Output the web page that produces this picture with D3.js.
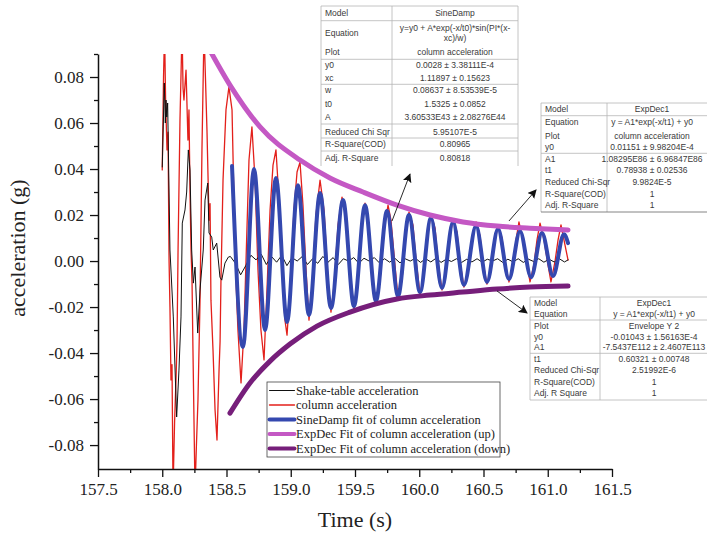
<!DOCTYPE html>
<html>
<head>
<meta charset="utf-8">
<script src="https://d3js.org/d3.v7.min.js"></script>
<style>
body { margin: 0; background: #fff; }
</style>
</head>
<body>
<script>
// shake-table acceleration (black)
var shakeTime = [158.000, 158.016, 158.024, 158.029, 158.035, 158.042, 158.060, 158.086, 158.112, 158.130,
  158.146, 158.156, 158.177, 158.190, 158.203, 158.216, 158.229, 158.242, 158.255, 158.276,
  158.294, 158.319, 158.333, 158.354, 158.364, 158.385, 158.397, 158.424, 158.449, 158.463,
  158.488, 158.514,
  158.53, 158.57, 158.61, 158.65, 158.69, 158.73, 158.77, 158.81, 158.85, 158.89,
  158.93, 158.97, 159.01, 159.05, 159.09, 159.13, 159.17, 159.21, 159.25, 159.29,
  159.33, 159.37, 159.41, 159.45, 159.49, 159.53, 159.57, 159.61, 159.65, 159.69,
  159.73, 159.77, 159.81, 159.85, 159.89, 159.93, 159.97, 160.01, 160.05, 160.09,
  160.13, 160.17, 160.21, 160.25, 160.29, 160.33, 160.37, 160.41, 160.45, 160.49,
  160.53, 160.57, 160.61, 160.65, 160.69, 160.73, 160.77, 160.81, 160.85, 160.89,
  160.93, 160.97, 161.01, 161.05, 161.09, 161.13, 161.158];
var shakeAcc = [0.0409, 0.0774, 0.0600, 0.0700, 0.0626, 0.0687, 0.0048, -0.0243, -0.0678, -0.0474,
  -0.0243, 0.0165, 0.0222, 0.0300, 0.0483, 0.0396, 0.0048, -0.0096, -0.0026, -0.0313,
  -0.0126, 0.0048, 0.0265, 0.0339, 0.0122, 0.0104, 0.0048, 0.0078, -0.0070, -0.0083,
  -0.0009, 0.0017,
  0.0020, -0.0010, -0.0060, -0.0020, 0.0025, 0.0005, 0.0030, -0.0015, 0.0020, -0.0005,
  0.0025, -0.0020, 0.0015, 0.0000, 0.0020, -0.0015, 0.0010, -0.0010, 0.0020, -0.0005,
  0.0015, -0.0015, 0.0010, 0.0000, 0.0015, -0.0010, 0.0012, 0.0000, 0.0015, -0.0008,
  0.0010, -0.0005, 0.0012, -0.0008, 0.0010, 0.0000, 0.0012, -0.0006, 0.0010, -0.0004,
  0.0012, -0.0006, 0.0008, -0.0002, 0.0010, -0.0006, 0.0008, -0.0004, 0.0010, -0.0005,
  0.0008, 0.0000, 0.0010, -0.0006, 0.0008, -0.0004, 0.0010, -0.0006, 0.0008, -0.0002,
  0.0010, -0.0005, 0.0008, -0.0004, 0.0010, -0.0004, 0.0005];

// column acceleration (red)
var columnTime = [158.000, 158.010, 158.018, 158.026, 158.037, 158.045, 158.053, 158.060, 158.068, 158.076,
  158.084, 158.096, 158.107, 158.115, 158.123, 158.138, 158.154, 158.162,
  158.169, 158.185, 158.200, 158.208, 158.216, 158.224, 158.232, 158.239, 158.255, 158.266, 158.278, 158.294, 158.309,
  158.325, 158.336, 158.348, 158.364, 158.372, 158.379, 158.395, 158.411, 158.426, 158.442, 158.450, 158.457, 158.473,
  158.496, 158.519, 158.543, 158.558, 158.574, 158.589, 158.613, 158.636, 158.652, 158.675,
  158.698, 158.722, 158.745, 158.768, 158.792, 158.815, 158.839, 158.862, 158.885, 158.909,
  158.932, 158.955, 158.971, 158.994, 159.025, 159.049, 159.072, 159.095, 159.119, 159.142,
  159.165, 159.196, 159.228, 159.259, 159.290, 159.313, 159.337, 159.368, 159.399,
  159.430, 159.461, 159.492, 159.523, 159.547, 159.578, 159.601, 159.632, 159.663, 159.695,
  159.726, 159.757, 159.780, 159.811, 159.835, 159.866, 159.889, 159.920, 159.951, 159.975,
  160.006, 160.037, 160.060, 160.091, 160.123, 160.146, 160.177, 160.208, 160.232, 160.263,
  160.294, 160.317, 160.348, 160.379, 160.411, 160.442, 160.473, 160.496, 160.527, 160.558,
  160.582, 160.613, 160.644, 160.667, 160.698, 160.730, 160.753, 160.776, 160.807, 160.839,
  160.862, 160.893, 160.916, 160.940, 160.971, 161.002, 161.025, 161.056, 161.080, 161.103,
  161.134, 161.158];
var columnAcc = [0.0396, 0.0800, 0.1004, 0.0700, 0.0483, 0.0560, 0.0004, -0.0200, -0.0517, -0.0450,
  -0.0996, -0.0700, -0.0517, -0.0350, 0.0048, 0.0613, 0.1004, 0.0750,
  0.0700, 0.0830, 0.0526, 0.0657, 0.0300, 0.0048, -0.0100, -0.0387, -0.0996, -0.0800, -0.0604, -0.0170, 0.0483,
  0.1004, 0.0800, 0.0570, 0.0178, 0.0250, -0.0170, -0.0387, -0.0648, -0.0778, -0.0474, -0.0350, -0.0083, 0.0352,
  0.0657, 0.0757, 0.0657, 0.0265, -0.0083, -0.0300, -0.0530, -0.0300, 0.0004, 0.0439,
  0.0583, 0.0352, -0.0039, -0.0300, -0.0430, -0.0126, 0.0222, 0.0417, 0.0483, 0.0265,
  -0.0039, -0.0257, -0.0322, -0.0126, 0.0222, 0.0387, 0.0430, 0.0243, -0.0039, -0.0257,
  -0.0126, 0.0200, 0.0352, 0.0222, -0.0083, -0.0222, -0.0104, 0.0157, 0.0278,
  0.0200, -0.0039, -0.0213, -0.0104, 0.0135, 0.0252, 0.0178, -0.0039, -0.0191, -0.0083,
  0.0135, 0.0243, 0.0178, -0.0017, -0.0161, -0.0083, 0.0091, 0.0213, 0.0157, 0.0004,
  -0.0143, -0.0061, 0.0091, 0.0204, 0.0143, -0.0004, -0.0126, -0.0048, 0.0091, 0.0178,
  0.0126, -0.0004, -0.0113, -0.0039, 0.0091, 0.0170, 0.0109, -0.0004, -0.0100, -0.0030,
  0.0070, 0.0152, 0.0100, -0.0004, -0.0091, -0.0022, 0.0091, 0.0170, 0.0091, -0.0017,
  -0.0091, -0.0013, 0.0091, 0.0165, 0.0091, -0.0017, -0.0091, -0.0004, 0.0091, 0.0157,
  0.0070, 0.0004];

// SineDamp fit, read at its crests and troughs (blue)
var sineTime = [158.543, 158.628, 158.714, 158.800, 158.885, 158.971, 159.056, 159.142, 159.228, 159.313,
  159.407, 159.492, 159.578, 159.663, 159.749, 159.835, 159.920, 160.006, 160.091, 160.177,
  160.263, 160.348, 160.442, 160.527, 160.613, 160.698, 160.784, 160.870, 160.955, 161.041,
  161.126, 161.158];
var sineAcc = [0.0413, -0.0374, 0.0400, -0.0300, 0.0361, -0.0265, 0.0330, -0.0235, 0.0296, -0.0204,
  0.0265, -0.0196, 0.0243, -0.0174, 0.0217, -0.0152, 0.0200, -0.0135, 0.0187, -0.0117,
  0.0170, -0.0104, 0.0152, -0.0091, 0.0139, -0.0078, 0.0130, -0.0070, 0.0122, -0.0065,
  0.0117, 0.0078];

// ExpDec envelope (up)
var upTime = [158.348, 158.527, 158.761, 159.072, 159.305, 159.562, 159.827, 160.084, 160.340, 160.605, 160.862, 161.158];
var upAcc = [0.0939, 0.0765, 0.0583, 0.0439, 0.0361, 0.0300, 0.0243, 0.0200, 0.0170, 0.0152, 0.0143, 0.0135];

// ExpDec envelope (down)
var downTime = [158.527, 158.683, 158.839, 158.994, 159.204, 159.461, 159.827, 160.084, 160.340, 160.605, 160.862, 161.158];
var downAcc = [-0.0661, -0.0530, -0.0435, -0.0361, -0.0283, -0.0222, -0.0165, -0.0148, -0.0135, -0.0122, -0.0113, -0.0109];

var xTicks = [157.5, 158.0, 158.5, 159.0, 159.5, 160.0, 160.5, 161.0, 161.5];
var yTicks = [-0.08, -0.06, -0.04, -0.02, 0.00, 0.02, 0.04, 0.06, 0.08];

var legendNames = ["Shake-table acceleration", "column acceleration", "SineDamp fit of column acceleration",
  "ExpDec Fit of column acceleration (up)", "ExpDec Fit of column acceleration (down)"];
var seriesColors = ["#111111", "#e3201b", "#3448af", "#c458c4", "#761e7a"];
var seriesWidths = [1, 1.3, 4, 5, 5];

// fit report tables
var sineRows = [["Model", "SineDamp"], ["Equation", ["y=y0 + A*exp(-x/t0)*sin(PI*(x-", "xc)/w)"]],
  ["Plot", "column acceleration"], ["y0", "0.0028 \u00b1 3.38111E-4"], ["xc", "1.11897 \u00b1 0.15623"],
  ["w", "0.08637 \u00b1 8.53539E-5"], ["t0", "1.5325 \u00b1 0.0852"], ["A", "3.60533E43 \u00b1 2.08276E44"],
  ["Reduced Chi Sqr", "5.95107E-5"], ["R-Square(COD)", "0.80965"], ["Adj. R-Square", "0.80818"]];
var upRows = [["Model", "ExpDec1"], ["Equation", "y = A1*exp(-x/t1) + y0"], ["Plot", "column acceleration"],
  ["y0", "0.01151 \u00b1 9.98204E-4"], ["A1", "1.08295E86 \u00b1 6.96847E86"], ["t1", "0.78938 \u00b1 0.02536"],
  ["Reduced Chi-Sqr", "9.9824E-5"], ["R-Square(COD)", "1"], ["Adj. R-Square", "1"]];
var downRows = [["Model", "ExpDec1"], ["Equation", "y = A1*exp(-x/t1) + y0"], ["Plot", "Envelope Y 2"],
  ["y0", "-0.01043 \u00b1 1.56163E-4"], ["A1", "-7.5437E112 \u00b1 2.4607E113"], ["t1", "0.60321 \u00b1 0.00748"],
  ["Reduced Chi-Sqr", "2.51992E-6"], ["R-Square(COD)", "1"], ["Adj. R Square", "1"]];

// set the dimensions and margins of the graph
var margin = {top: 54, right: 95, bottom: 67, left: 98},
    width = 707 - margin.left - margin.right,
    height = 536 - margin.top - margin.bottom;

var x = d3.scaleLinear().domain([157.5, 161.5]).range([0, width]);
var y = d3.scaleLinear().domain([-0.0904, 0.09]).range([height, 0]);

var svg0 = d3.select("body").append("svg")
    .attr("width", 707)
    .attr("height", 536)
    .style("display", "block");

var svg = svg0.append("g")
    .attr("transform", "translate(" + margin.left + "," + margin.top + ")");

svg.append("clipPath").attr("id", "plotclip")
  .append("rect").attr("width", width).attr("height", height);

var line = d3.line().x(function(d) { return x(d[0]); }).y(function(d) { return y(d[1]); });
var smooth = d3.line().curve(d3.curveMonotoneX)
    .x(function(d) { return x(d[0]); }).y(function(d) { return y(d[1]); });

var plot = svg.append("g").attr("clip-path", "url(#plotclip)");

// column first, shake-table on top of it, fits on top
var series = [
  {pts: d3.zip(columnTime, columnAcc), gen: line, i: 1},
  {pts: d3.zip(shakeTime, shakeAcc), gen: line, i: 0},
  {pts: d3.zip(sineTime, sineAcc), gen: smooth, i: 2},
  {pts: d3.zip(upTime, upAcc), gen: smooth, i: 3},
  {pts: d3.zip(downTime, downAcc), gen: smooth, i: 4}
];
series.forEach(function(s) {
  plot.append("path")
      .attr("d", s.gen(s.pts))
      .attr("fill", "none")
      .attr("stroke", seriesColors[s.i])
      .attr("stroke-width", seriesWidths[s.i])
      .attr("stroke-linejoin", "round")
      .attr("stroke-linecap", "round");
});

// axes
var fmtY = function(d) { return d3.format(".2f")(d).replace("\u2212", "-"); };

function styleAxis(g) {
  g.select(".domain").attr("stroke", "#111").attr("stroke-width", 1.5);
  g.selectAll(".tick line").attr("stroke", "#111").attr("stroke-width", 1.3);
  g.selectAll(".tick text")
      .attr("fill", "#222")
      .style("font-family", "'Liberation Serif', 'Times New Roman', serif")
      .style("font-size", "17px");
}

svg.append("g")
    .attr("transform", "translate(0," + height + ")")
    .call(d3.axisBottom(x).tickValues(xTicks).tickFormat(d3.format(".1f"))
      .tickSize(8).tickSizeOuter(0).tickPadding(6))
    .call(styleAxis);

svg.append("g")
    .attr("transform", "translate(0," + height + ")")
    .call(d3.axisBottom(x).tickValues(xTicks.slice(1).map(function(d) { return d - 0.25; }))
      .tickFormat("").tickSize(4).tickSizeOuter(0))
    .call(function(g) { g.select(".domain").remove(); })
    .call(styleAxis);

svg.append("g")
    .call(d3.axisLeft(y).tickValues(yTicks).tickFormat(fmtY)
      .tickSize(8).tickSizeOuter(0).tickPadding(6))
    .call(styleAxis);

svg.append("g")
    .call(d3.axisLeft(y).tickValues(yTicks.map(function(d) { return d + 0.01; }))
      .tickFormat("").tickSize(4).tickSizeOuter(0))
    .call(function(g) { g.select(".domain").remove(); })
    .call(styleAxis);

// axis titles
svg0.append("text")
    .attr("text-anchor", "middle")
    .attr("transform", "translate(25,248)rotate(-90)")
    .style("font-family", "'Liberation Serif', 'Times New Roman', serif")
    .style("font-size", "22px")
    .attr("fill", "#222")
    .text("acceleration (g)");

svg0.append("text")
    .attr("text-anchor", "middle")
    .attr("x", margin.left + width / 2)
    .attr("y", 527)
    .style("font-family", "'Liberation Serif', 'Times New Roman', serif")
    .style("font-size", "22px")
    .attr("fill", "#222")
    .text("Time (s)");

// legend
var legend = svg0.append("g").attr("transform", "translate(267,382)");
legend.append("rect")
    .attr("width", 233).attr("height", 75)
    .attr("fill", "#fff").attr("stroke", "#444").attr("stroke-width", 0.8);
legendNames.forEach(function(name, i) {
  var cy = 8.5 + i * 14.5;
  legend.append("line")
      .attr("x1", 2.5).attr("x2", 27.5).attr("y1", cy).attr("y2", cy)
      .attr("stroke", seriesColors[i])
      .attr("stroke-width", Math.min(seriesWidths[i], 4))
      .attr("stroke-linecap", "round");
  legend.append("text")
      .attr("x", 29).attr("y", cy).attr("dy", "0.35em")
      .style("font-family", "'Liberation Serif', 'Times New Roman', serif")
      .style("font-size", "12.5px")
      .attr("fill", "#222")
      .text(name);
});

// arrows from the curves to their reports
svg0.append("defs").append("marker")
    .attr("id", "head")
    .attr("viewBox", "0 0 10 10")
    .attr("refX", 9).attr("refY", 5)
    .attr("markerWidth", 9).attr("markerHeight", 9)
    .attr("markerUnits", "userSpaceOnUse")
    .attr("orient", "auto")
  .append("path").attr("d", "M0,0L10,5L0,10L2,5Z").attr("fill", "#111");

var arrows = [[159.788, 0.0174, 159.928, 0.0378], [160.698, 0.0174, 160.909, 0.0309], [160.605, -0.0130, 160.839, -0.0226]];
arrows.forEach(function(a) {
  svg.append("line")
      .attr("x1", x(a[0])).attr("y1", y(a[1]))
      .attr("x2", x(a[2])).attr("y2", y(a[3]))
      .attr("stroke", "#111").attr("stroke-width", 0.9)
      .attr("marker-end", "url(#head)");
});

// fit tables
function drawTable(rows, opt) {
  var g = svg0.append("g");
  g.append("rect")
      .attr("x", opt.x).attr("y", opt.y).attr("width", opt.w).attr("height", opt.h)
      .attr("fill", "#fff");
  g.append("line").attr("x1", opt.x).attr("x2", opt.x).attr("y1", opt.y).attr("y2", opt.y + opt.h)
      .attr("stroke", "#b5b5b5").attr("stroke-width", 0.8);
  g.append("line").attr("x1", opt.x + opt.w).attr("x2", opt.x + opt.w).attr("y1", opt.y).attr("y2", opt.y + opt.h)
      .attr("stroke", "#b5b5b5").attr("stroke-width", 0.8);
  g.append("line").attr("x1", opt.div).attr("x2", opt.div).attr("y1", opt.y).attr("y2", opt.y + opt.h)
      .attr("stroke", "#b5b5b5").attr("stroke-width", 0.8);
  opt.lines.forEach(function(ly, k) {
    g.append("line").attr("x1", opt.x).attr("x2", opt.x + opt.w).attr("y1", ly).attr("y2", ly)
        .attr("stroke", k === opt.lines.length - 1 && opt.darkBottom ? "#666" : "#b5b5b5")
        .attr("stroke-width", 0.8);
  });
  rows.forEach(function(r, i) {
    var cy = opt.rowY[i];
    g.append("text")
        .attr("x", opt.x + 4).attr("y", cy).attr("dy", "0.35em")
        .style("font-family", "'Liberation Sans', Arial, sans-serif")
        .style("font-size", "8.5px").attr("fill", "#3a3a3a")
        .text(r[0]);
    var vals = Array.isArray(r[1]) ? r[1] : [r[1]];
    vals.forEach(function(v, j) {
      g.append("text")
          .attr("x", opt.vx).attr("y", cy + (j - (vals.length - 1) / 2) * 10).attr("dy", "0.35em")
          .attr("text-anchor", "middle")
          .style("font-family", "'Liberation Sans', Arial, sans-serif")
          .style("font-size", "8.5px").attr("fill", "#3a3a3a")
          .text(v);
    });
  });
}

drawTable(sineRows, {x: 321, y: 6, w: 197, h: 160, div: 392, vx: 455,
  rowY: [13.3, 33, 51.7, 65, 77.7, 90, 104, 117.3, 131.7, 144.3, 157.7],
  lines: [6, 20.7, 59.3, 84.3, 124, 138, 151]});
drawTable(upRows, {x: 541, y: 103, w: 175, h: 109, div: 607, vx: 652,
  rowY: [109, 122.3, 135.7, 147.3, 159, 170.3, 182.3, 193.7, 205],
  lines: [103, 115.7, 153.3, 212], darkBottom: true});
drawTable(downRows, {x: 530, y: 297, w: 185, h: 103, div: 600, vx: 654,
  rowY: [303.3, 314, 326, 336.7, 347.3, 359.3, 370, 381.7, 392.7],
  lines: [297, 320, 353.3, 400]});

</script>
</body>
</html>
